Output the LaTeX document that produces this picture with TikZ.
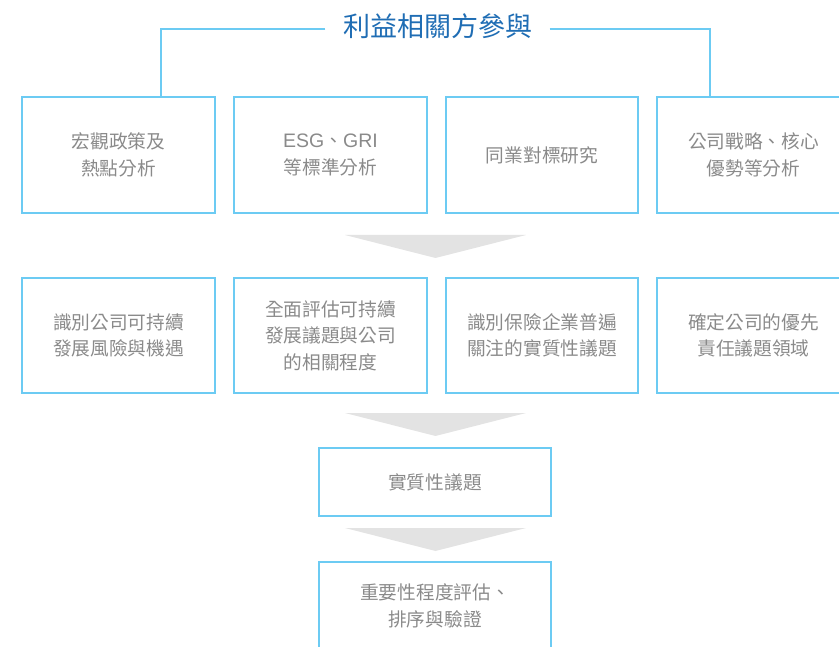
\documentclass[tikz,border=0pt]{standalone}
\usepackage{fontspec}
\newfontfamily\cjk{Noto Sans CJK TC}
\newfontfamily\latinsans{Liberation Sans}
\definecolor{boxblue}{HTML}{6CCBF3}
\definecolor{titleblue}{HTML}{1F6DB4}
\definecolor{txtgray}{HTML}{8A8A8A}
\definecolor{arrowgray}{HTML}{E3E3E3}
\begin{document}
\begin{tikzpicture}[x=1pt,y=-1pt,
  box/.style={draw=boxblue, line width=1.4pt, inner sep=0pt, align=center,
    text=txtgray, font=\cjk\fontsize{18.7}{26.5}\selectfont,
    minimum width=193pt, minimum height=116pt},
  arrowtri/.style={fill=arrowgray, draw=none},
  link/.style={draw=boxblue, line width=1.4pt}]
\useasboundingbox (0,0) rectangle (839,647);
\clip (0,0) rectangle (839,647);
% title
\node[text=titleblue, font=\cjk\fontsize{27}{30}\selectfont, inner xsep=17.5pt, inner ysep=0pt] (title) at (437.5,26) {利益相關方參與};
% row 1
\node[box] (a1) at (118.5,155) {宏觀政策及\\熱點分析};
\node[box] (a2) at (330.5,155) {{\latinsans\fontsize{19.5}{26.5}\selectfont ESG}、{\latinsans\fontsize{19.5}{26.5}\selectfont GRI}\\等標準分析};
\node[box, minimum width=192pt] (a3) at (542,155) {同業對標研究};
\node[box] (a4) at (753.5,155) {公司戰略、核心\\優勢等分析};
% row 2
\node[box, minimum height=115pt] (b1) at (118.5,335.5) {識別公司可持續\\發展風險與機遇};
\node[box, minimum height=115pt] (b2) at (330.5,335.5) {全面評估可持續\\發展議題與公司\\的相關程度};
\node[box, minimum height=115pt, minimum width=192pt] (b3) at (542,335.5) {識別保險企業普遍\\關注的實質性議題};
\node[box, minimum height=115pt] (b4) at (753.5,335.5) {確定公司的優先\\責任議題領域};
% lower boxes
\node[box, minimum width=232pt, minimum height=68pt] (c) at (435,482) {實質性議題};
\node[box, minimum width=232pt, minimum height=88pt] (d) at (435,606) {重要性程度評估、\\排序與驗證};
% connectors from title
\coordinate (L) at (161,97);
\coordinate (R) at (710,97);
\draw[link] (title.west |- 0,29) -| (L);
\draw[link] (title.east |- 0,29) -| (R);
% arrow triangles
\fill[arrowtri] (345,235) -- (526,235) -- (435.5,258) -- cycle;
\fill[arrowtri] (345,413) -- (526,413) -- (435.5,436) -- cycle;
\fill[arrowtri] (345,528) -- (526,528) -- (435.5,551) -- cycle;
\end{tikzpicture}
\end{document}
